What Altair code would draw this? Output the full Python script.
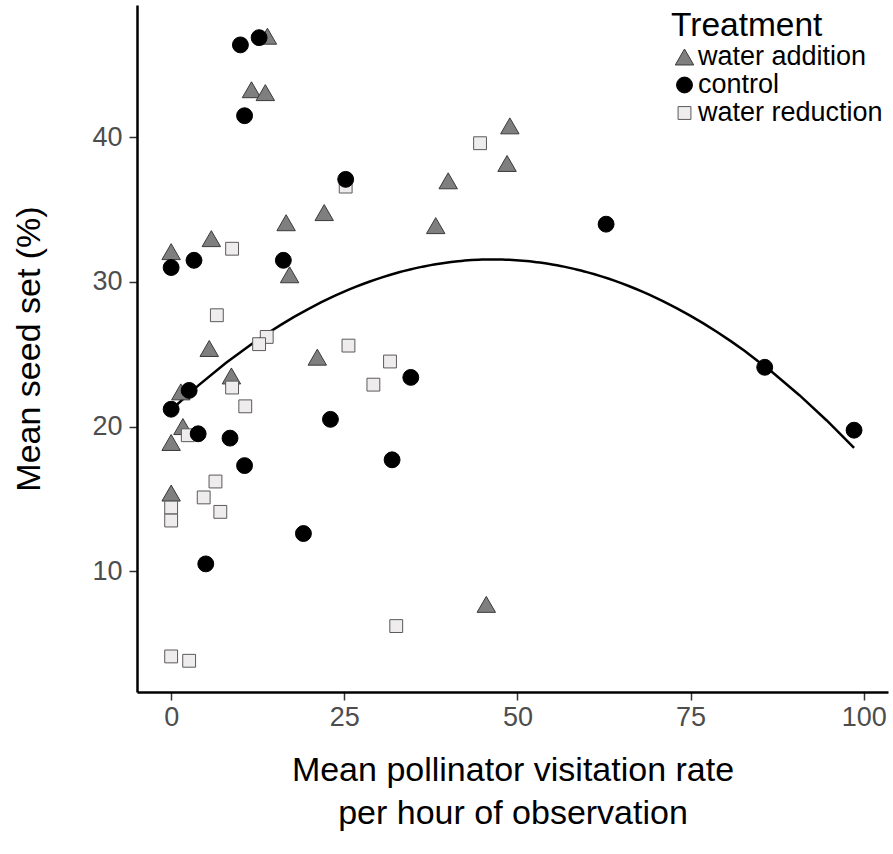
import altair as alt
import pandas as pd

# Treatment groups
treatments = ["water addition", "control", "water reduction"]

# water addition (triangles)
wa_x = [13.9, 11.6, 13.6, 0.0, 5.8, 16.6, 22.1, 38.2, 40.0, 48.9, 48.5, 17.1, 5.5, 21.1, 8.7, 1.4, 1.7, 0.0, 0.0, 45.5]
wa_y = [47.0, 43.3, 43.1, 32.1, 33.0, 34.1, 34.8, 33.9, 37.0, 40.8, 38.2, 30.5, 25.4, 24.8, 23.5, 22.4, 20.0, 18.9, 15.4, 7.7]

# water reduction (squares)
wr_x = [44.6, 25.2, 8.8, 6.6, 13.8, 12.7, 25.6, 31.6, 29.2, 8.8, 10.7, 2.4, 6.4, 4.7, 7.1, 0.0, 0.0, 0.0, 2.6, 32.5]
wr_y = [39.6, 36.6, 32.3, 27.7, 26.2, 25.7, 25.6, 24.5, 22.9, 22.7, 21.4, 19.4, 16.2, 15.1, 14.1, 14.4, 13.5, 4.1, 3.8, 6.2]

# control (circles)
ct_x = [10.0, 12.7, 10.6, 25.2, 0.0, 3.3, 16.2, 2.6, 0.0, 3.9, 8.5, 10.6, 23.0, 31.9, 34.6, 19.1, 5.0, 62.8, 85.7, 98.6]
ct_y = [46.4, 46.9, 41.5, 37.1, 31.0, 31.5, 31.5, 22.5, 21.2, 19.5, 19.2, 17.3, 20.5, 17.7, 23.4, 12.6, 10.5, 34.0, 24.1, 19.75]

x_ticks = [0, 25, 50, 75, 100]
y_ticks = [10, 20, 30, 40]

rows = []
for t, xs, ys in [("water addition", wa_x, wa_y), ("water reduction", wr_x, wr_y), ("control", ct_x, ct_y)]:
    for a, b in zip(xs, ys):
        rows.append({"rate": a, "seed": b, "Treatment": t})
df = pd.DataFrame(rows)

FONT = "Liberation Sans"

xscale = alt.Scale(domain=[-4.93, 103.5], nice=False, zero=False)
yscale = alt.Scale(domain=[1.64, 49.16], nice=False, zero=False)

x_enc = alt.X("rate:Q", scale=xscale,
              axis=alt.Axis(values=x_ticks, title=["Mean pollinator visitation rate", "per hour of observation"],
                            titleX=375.5, titleY=88, titleAlign="center", titleBaseline="alphabetic",
                            titleLineHeight=43, labelPadding=4))
y_enc = alt.Y("seed:Q", scale=yscale,
              axis=alt.Axis(values=y_ticks, title="Mean seed set (%)",
                            titleX=-98, titleY=343.5, titleAlign="center", titleBaseline="alphabetic",
                            labelPadding=7))

line = alt.Chart(df).transform_regression(
    "rate", "seed", method="poly", order=2
).mark_line(color="black", strokeWidth=2.5).encode(x=x_enc, y=y_enc)

leg = dict(title="Treatment", orient="none", legendX=534, legendY=5, rowPadding=0,
           labelLimit=400, labelOffset=0, padding=0, titlePadding=0)

points = alt.Chart(df).mark_point(filled=True, opacity=1, strokeWidth=1).encode(
    x=x_enc,
    y=y_enc,
    shape=alt.Shape("Treatment:N", scale=alt.Scale(domain=treatments, range=["triangle-up", "circle", "square"]),
                    legend=alt.Legend(**leg)),
    fill=alt.Fill("Treatment:N", scale=alt.Scale(domain=treatments, range=["#7f7f7f", "#000000", "#eeecec"]),
                  legend=alt.Legend(**leg)),
    stroke=alt.Stroke("Treatment:N", scale=alt.Scale(domain=treatments, range=["#3a3a3a", "#000000", "#5a5a5a"]),
                      legend=alt.Legend(**leg)),
    size=alt.Size("Treatment:N", scale=alt.Scale(domain=treatments, range=[340, 165, 169]),
                  legend=alt.Legend(**leg)),
)

chart = alt.layer(line, points).properties(
    width=751, height=687,
    padding={"left": 137, "top": 5, "right": 5, "bottom": 162},
    autosize=alt.AutoSizeParams(type="none"),
    background="white",
).configure_view(stroke=None).configure_axis(
    grid=False,
    domainColor="black", domainWidth=2.5,
    tickColor="#333333", tickWidth=1.5, tickSize=8,
    labelFont=FONT, labelFontSize=27, labelColor="#4d4d4d",
    titleFont=FONT, titleFontSize=34, titleColor="black", titleFontWeight="normal",
).configure_legend(
    titleFont=FONT, titleFontSize=33.5, titleFontWeight="normal", titleColor="black",
    labelFont=FONT, labelFontSize=27, labelColor="black",
    symbolStrokeWidth=1,
)

chart.save("out.html", embed_options={"renderer": "svg", "actions": False})
